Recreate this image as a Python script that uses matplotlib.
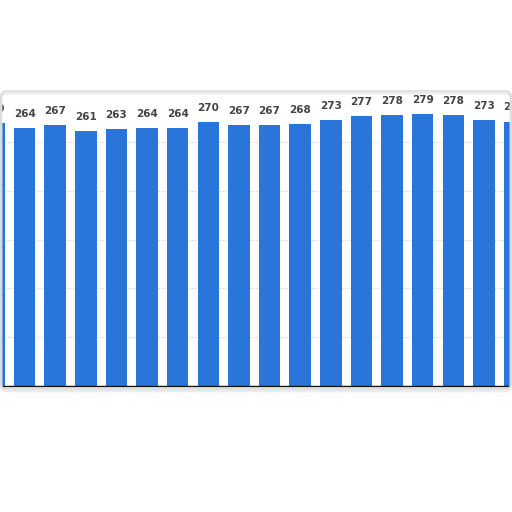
import numpy as np
import matplotlib
matplotlib.use("Agg")
import matplotlib.pyplot as plt
from matplotlib.patches import FancyBboxPatch

# values (first and last bars are cut by the crop)
values = [269, 264, 267, 261, 263, 264, 264, 270, 267, 267, 268,
          273, 277, 278, 279, 278, 273, 271]
labels = [str(v) for v in values]
grid_values = [50, 100, 150, 200, 250]

W = H = 512
fig = plt.figure(figsize=(W / 100, H / 100), dpi=100)
fig.patch.set_facecolor("white")


def px(x, y):
    # pixel (top-left origin) -> figure fraction
    return x / W, 1 - y / H


# card frame with a soft shadow
for off, col, lw in [(2, "#ececec", 2.0), (0, "#d6d6d6", 1.0)]:
    x0, y1 = px(1, 91 + off)
    x1, y0 = px(511, 389 + off)
    card = FancyBboxPatch((x0, y0), x1 - x0, y1 - y0,
                          boxstyle="round,pad=0,rounding_size=0.012",
                          transform=fig.transFigure, facecolor="none",
                          edgecolor=col, linewidth=lw, zorder=0)
    fig.patches.append(card)

# axes: baseline at y=386 px, 0.976 px per unit, bar pitch 30.5 px
bottom = (H - 386) / H
height = 300 * 0.976 / H
ax = fig.add_axes([0, bottom, 1, height])
ax.patch.set_alpha(0)

x = np.arange(len(values))
ax.bar(x, values, width=0.7, color="#2a75d9", zorder=2)

for g in grid_values:
    ax.axhline(g, color="#cfcfcf", lw=0.8, ls=(0, (1, 1.5)), zorder=1)

for xi, v, t in zip(x, values, labels):
    ax.annotate(t, (xi, v), xytext=(0, 6.5), textcoords="offset points",
                ha="center", va="bottom", fontsize=7.5, fontweight="bold",
                color="#444444", zorder=3, annotation_clip=False)

ax.set_xlim(6 / 30.5, 516 / 30.5)
ax.set_ylim(0, 300)
ax.set_xticks([])
ax.set_yticks([])
for s in ["top", "left", "right"]:
    ax.spines[s].set_visible(False)
ax.spines["bottom"].set_color("#111111")
ax.spines["bottom"].set_linewidth(1.0)
ax.spines["bottom"].set_zorder(4)

fig.savefig("out.png", dpi=100)
